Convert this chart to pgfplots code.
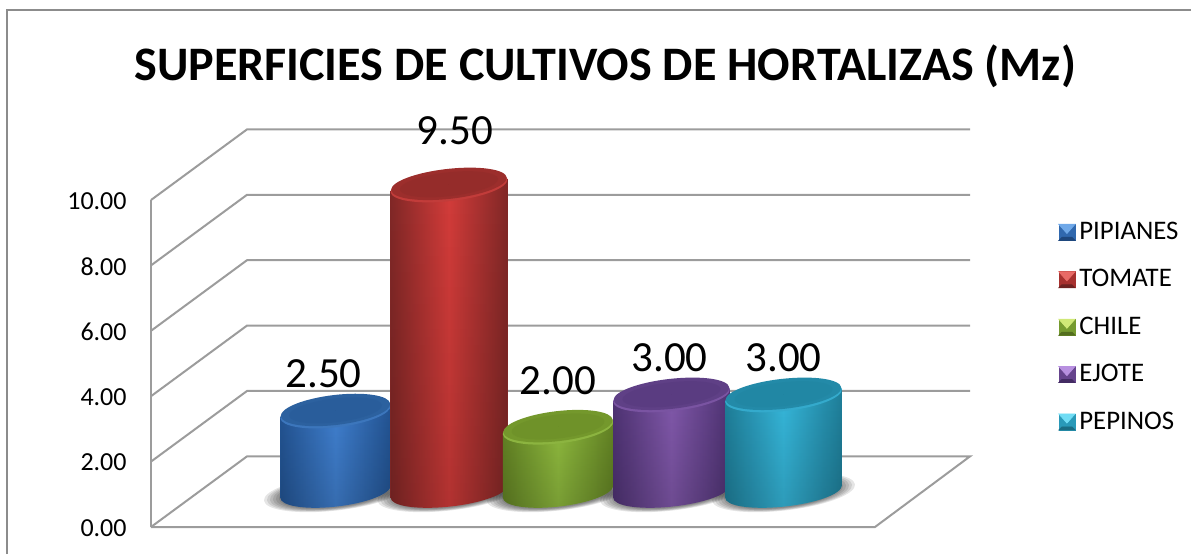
\documentclass[border=0pt]{standalone}
\usepackage{fontspec}
\setmainfont{Carlito}
\usepackage{pgfplots}
\pgfplotsset{compat=1.18}
\usetikzlibrary{fadings}
\definecolor{gridgray}{HTML}{9C9C9C}
\definecolor{framegray}{HTML}{8C8C8C}
% edge, centre, top face, rim, light
\definecolor{blueE}{HTML}{235493}\definecolor{blueC}{HTML}{4080D0}\definecolor{blueT}{HTML}{2C619F}\definecolor{blueR}{HTML}{3C76BC}\definecolor{blueL}{HTML}{6FA8E8}
\definecolor{redE}{HTML}{822827}\definecolor{redC}{HTML}{D43C3A}\definecolor{redT}{HTML}{9C2E2C}\definecolor{redR}{HTML}{C23C3A}\definecolor{redL}{HTML}{E86A66}
\definecolor{greenE}{HTML}{628224}\definecolor{greenC}{HTML}{8FBA3E}\definecolor{greenT}{HTML}{74982C}\definecolor{greenR}{HTML}{8CB440}\definecolor{greenL}{HTML}{D0E878}
\definecolor{purpleE}{HTML}{4F3374}\definecolor{purpleC}{HTML}{8259AC}\definecolor{purpleT}{HTML}{5F4086}\definecolor{purpleR}{HTML}{7A54A2}\definecolor{purpleL}{HTML}{B890E0}
\definecolor{cyanE}{HTML}{1F7F9A}\definecolor{cyanC}{HTML}{36B8DC}\definecolor{cyanT}{HTML}{238AA8}\definecolor{cyanR}{HTML}{34AACC}\definecolor{cyanL}{HTML}{70DCF4}

% tilted ellipse, args: y offset, half axes; tilt 6.5 deg
\newcommand{\tiltell}[3]{\pgfpathellipse{\pgfpoint{0pt}{#1}}{\pgfpoint{#2*.99357*\s}{#2*.11320}}{\pgfpoint{-#3*.11320}{#3*.99357}}}
\newcommand{\cylbody}{%
 \pgfpathmoveto{\pgfpoint{-28.33pt*\s}{-3.0pt}}%
 \pgfpathlineto{\pgfpoint{-28.33pt*\s}{-3.0pt-\h pt}}%
 \pgfpatharcaxes{178}{358}{\pgfpoint{28.5pt*.99357*\s}{28.5pt*.11320}}{\pgfpoint{-7.5pt*.11320}{7.5pt*.99357}}%
 \pgfpathlineto{\pgfpoint{28.33pt*\s}{3.0pt}}%
 \pgfpathclose}
% cylinder drawn downward from the centre of its top face, 1px = .5pt
\newcommand{\cyl}[2]{%
 \pgfmathsetmacro\h{\barval*16.15}%
 \def\s{#2}%
 \shade[draw=none,left color=#1E,right color=#1E,middle color=#1C] \pgfextra{\cylbody};
 \fill[draw=none,black,opacity=.16,path fading=north] \pgfextra{\cylbody};
 \fill[draw=none,#1R] \pgfextra{\tiltell{-.5pt}{28.5pt}{7.75pt}};
 \fill[draw=none,#1T] \pgfextra{\tiltell{.4pt}{28.2pt}{7.5pt}};
 \fill[draw=none,#1E,opacity=.25] \pgfextra{\tiltell{.2pt}{24pt}{6pt}};}

\pgfdeclareplotmark{cylshadow}{%
 \foreach \r in {0,3,6,9,12,15}{%
  \pgfpathellipse{\pgfqpoint{0pt}{-.5pt}}{\pgfpoint{(28.5pt+.5pt*\r)*.99357}{(28.5pt+.5pt*\r)*.1132}}{\pgfpoint{-(7.5pt+.1pt*\r)*.1132}{(7.5pt+.1pt*\r)*.99357}}%
  \pgfsetfillopacity{.1}\pgfusepath{fill}}}

\pgfplotsset{
 wall/.style={gridgray,line width=1pt,mark=none},
 cyl/.style 2 args={
  scatter,only marks,mark=*,mark size=0pt,
  visualization depends on={rawy \as \barval},
  nodes near coords,
  scatter/@pre marker code/.code={\cyl{#1}{#2}},
  legend image code/.code={
   \fill[#1E!55!#1C] (0pt,-4pt) rectangle (8pt,4pt);
   \fill[#1L] (0pt,4pt) -- (8pt,4pt) -- (4pt,-.5pt) -- cycle;
   \fill[#1E!85!black] (0pt,-4pt) -- (8pt,-4pt) -- (6.5pt,-2.5pt) -- (1.5pt,-2.5pt) -- cycle;
  },
 },
 lbl/.style 2 args={every node near coord/.append style={anchor=center,xshift=#1,yshift=#2}},
}

\begin{document}
\begin{tikzpicture}
\path[use as bounding box] (0,0) rectangle (595.5pt,277pt);
\draw[framegray,line width=1pt] (3.5pt,0pt) -- (3.5pt,272pt) -- (595.5pt,272pt);

% walls and floor, x in px from the front left corner
\begin{axis}[at={(75.5pt,13.5pt)},anchor=south west,scale only axis,
 width=409.5pt,height=198.8pt,xmin=0,xmax=819,ymin=0,ymax=12.16,clip=false,
 axis line style={draw=none},tick style={draw=none},xtick=\empty,ytick={0,2,4,6,8,10},
 /pgf/number format/.cd,fixed,fixed zerofill,precision=2,assume math mode=true,/pgfplots/.cd,
 tick label style={font=\fontsize{13}{15}\selectfont},
 yticklabel style={inner sep=0pt,xshift=-12pt,yshift=-.5pt},
 title={\textbf{SUPERFICIES DE CULTIVOS DE HORTALIZAS (Mz)}},
 title style={font=\fontsize{24.05}{28}\selectfont,at={(.5545,1.129)},anchor=center}]
\addplot[wall] coordinates {(0,0)(0,10)};
\addplot[wall] coordinates {(0,0)(724,0)(819,2.16)(96,2.16)(0,0)};
\addplot[wall] coordinates {(0,2)(96,4.16)(819,4.16)};
\addplot[wall] coordinates {(0,4)(96,6.16)(819,6.16)};
\addplot[wall] coordinates {(0,6)(96,8.16)(819,8.16)};
\addplot[wall] coordinates {(0,8)(96,10.16)(819,10.16)};
\addplot[wall] coordinates {(0,10)(96,12.16)(819,12.16)};
\end{axis}

% cylinders, one category at each x
\begin{axis}[at={(167.75pt,31.25pt)},anchor=south west,scale only axis,
 width=224pt,height=161.5pt,xmin=0,xmax=4,ymin=0,ymax=10,clip=false,hide axis,
 point meta min=0,point meta max=10,
 /pgf/number format/.cd,fixed,fixed zerofill,precision=2,assume math mode=true,/pgfplots/.cd,
 nodes near coords style={font=\fontsize{21.5}{24}\selectfont,text=black},
 legend style={at={(1.613,.835)},anchor=north west,draw=none,fill=none,inner sep=0pt,
  font=\fontsize{13.4}{15}\selectfont,row sep=13.5pt,
  nodes={inner xsep=2pt,inner ysep=0pt}},
 legend cell align=left]
\addplot[forget plot,only marks,mark=cylshadow] coordinates {(0,0)(1.013,0)(1.987,0)(3,0)(4,0)};
\addplot[cyl={blue}{.975},lbl={-6pt}{18.5pt}] coordinates {(0,2.50)};
\addlegendentry{PIPIANES}
\addplot[cyl={red}{1.03},lbl={3pt}{27pt}] coordinates {(1.013,9.50)};
\addlegendentry{TOMATE}
\addplot[cyl={green}{.975},lbl={0pt}{23pt}] coordinates {(1.987,2.00)};
\addlegendentry{CHILE}
\addplot[cyl={purple}{1.03},lbl={-1pt}{18.5pt}] coordinates {(3,3.00)};
\addlegendentry{EJOTE}
\addplot[cyl={cyan}{1.03},lbl={0pt}{18.5pt}] coordinates {(4,3.00)};
\addlegendentry{PEPINOS}
\end{axis}
\end{tikzpicture}
\end{document}
